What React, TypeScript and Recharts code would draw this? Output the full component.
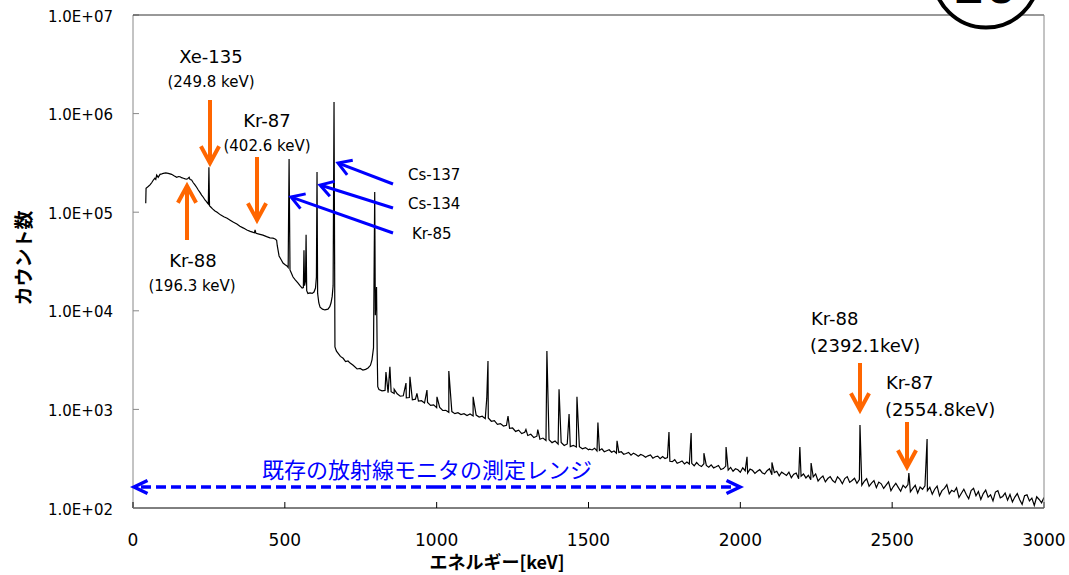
import { LineChart, Line, XAxis, YAxis } from 'recharts'

const W = 1069
const H = 575
// plot box produced by the margins below
const L = 133
const T = 15
const R = 1044
const B = 508

// 40-806 keV, read point by point (keV / counts)
const lowKeV = [42, 43, 50, 56, 62, 67, 72, 75, 78, 83, 89, 95, 100, 108, 116, 122, 127, 135, 144, 150, 155, 160, 166, 172, 177, 181, 185, 188, 193, 198, 204, 210, 215, 221, 226, 232, 237, 242, 246, 248, 250, 252, 256, 262, 270, 277, 288, 299, 310, 320, 331, 342, 352, 364, 375, 386, 396, 400, 402, 405, 415, 428, 440, 451, 461, 468, 473, 475, 481, 488, 494, 500, 507, 511, 514, 517, 520, 527, 535, 543, 550, 557, 561, 563, 565, 568, 570, 572, 576, 583, 590, 596, 601, 604, 606, 608, 612, 616, 624, 632, 642, 648, 652, 656, 659, 662, 665, 670, 675, 683, 692, 700, 708, 715, 725, 738, 748, 757, 766, 774, 782, 787, 792, 796, 798, 800, 802, 804, 806]
const lowCounts = [123000, 175000, 182000, 189000, 200000, 212000, 221000, 215000, 238000, 226000, 242000, 245000, 248000, 250000, 248000, 245000, 242000, 234000, 226000, 230000, 229000, 224000, 221000, 218000, 216000, 220000, 226000, 214000, 212000, 200000, 189000, 178000, 168000, 158000, 149000, 141000, 133000, 128000, 123000, 121000, 285000, 116000, 113000, 108000, 103000, 100000, 94000, 90000, 87000, 83000, 79000, 76000, 72000, 69000, 66000, 64000, 62500, 62000, 66000, 61000, 60000, 58500, 56500, 55000, 54500, 53500, 52000, 46000, 36000, 33000, 30500, 29500, 28500, 27500, 347000, 26000, 24800, 22000, 20500, 19200, 18000, 17000, 17200, 41000, 18000, 20000, 59000, 16000, 15000, 15200, 15000, 15500, 17000, 22000, 256000, 15000, 12000, 10900, 10400, 10200, 10400, 11000, 12000, 14000, 18000, 1310000, 4300, 3900, 3720, 3450, 3300, 3050, 3100, 2950, 2800, 2570, 2600, 2510, 2550, 2630, 2800, 3180, 4200, 160000, 9000, 13000, 17400, 4000, 1700]

// continuum 810-1500 keV, 10 keV channels
const midStart = 810
const midStep = 10
const midCounts = [
  1590, 1545, 1560, 1480, 1510, 1450, 1440, 1360, 1375, 1310,
  1320, 1250, 1270, 1215, 1225, 1160, 1175, 1100, 1110, 1040,
  1045, 975, 980, 935, 950, 905, 925, 885, 905, 865,
  900, 858, 875, 835, 852, 805, 818, 758, 768, 705,
  718, 678, 690, 642, 648, 598, 615, 568, 585, 543,
  560, 518, 535, 498, 512, 484, 492, 460, 478, 445,
  462, 430, 446, 420, 432, 415, 418, 398, 410, 390,
]

// continuum 1504-3000 keV, 8 keV channels
const highStart = 1504
const highStep = 8
const highCounts = [
  396, 388, 404, 379, 384, 398, 372, 381, 390, 368,
  379, 360, 366, 372, 351, 357, 366, 343, 360, 349,
  335, 349, 341, 327, 338, 345, 320, 331, 336, 317,
  333, 318, 324, 298, 295, 309, 284, 291, 300, 280,
  293, 279, 284, 268, 289, 272, 263, 281, 270, 259,
  274, 255, 262, 270, 246, 251, 266, 242, 258, 236,
  250, 244, 230, 256, 239, 226, 248, 241, 224, 236,
  245, 228, 221, 239, 250, 217, 229, 236, 212, 231,
  222, 214, 231, 203, 220, 226, 198, 210, 221, 202,
  215, 193, 207, 222, 188, 201, 211, 184, 199, 208,
  190, 181, 207, 195, 176, 199, 208, 182, 190, 200,
  178, 194, 170, 186, 198, 166, 179, 190, 161, 183,
  176, 158, 171, 184, 150, 165, 178, 162, 148, 170,
  160, 173, 146, 158, 170, 142, 163, 155, 168, 150,
  162, 138, 155, 167, 133, 150, 158, 172, 139, 151,
  146, 160, 128, 141, 155, 137, 124, 150, 158, 133,
  147, 122, 140, 152, 129, 136, 118, 145, 150, 127,
  131, 142, 120, 137, 115, 129, 140, 121, 109, 133,
  136, 118, 126, 106, 130, 122, 113, 128,
]

// photopeaks above 800 keV
const peakKeV = [833, 846, 860, 899, 912, 935, 968, 1001, 1040, 1120, 1165, 1169, 1235, 1294, 1333, 1363, 1403, 1436, 1462, 1531, 1594, 1765, 1838, 1880, 1953, 2022, 2104, 2196, 2233, 2394, 2555, 2615]
const peakCounts = [2390, 2700, 1600, 1850, 2140, 1450, 1570, 1340, 2450, 1340, 1300, 3100, 857, 625, 625, 3900, 1600, 898, 1340, 735, 480, 590, 577, 360, 416, 330, 290, 416, 286, 695, 226, 501]

const xTicks = [0, 500, 1000, 1500, 2000, 2500, 3000]
const yTicks = [1e2, 1e3, 1e4, 1e5, 1e6, 1e7]
const yTickLabels = ['1.0E+02', '1.0E+03', '1.0E+04', '1.0E+05', '1.0E+06', '1.0E+07']

const spectrum = [
  ...lowKeV.map((e, i) => ({ e, c: lowCounts[i] })),
  ...midCounts.map((c, i) => ({ e: midStart + i * midStep, c })),
  ...highCounts.map((c, i) => ({ e: highStart + i * highStep, c })),
  ...peakKeV.map((e, i) => ({ e, c: peakCounts[i] })),
].sort((a, b) => a.e - b.e)

const LATIN = 'DejaVu Sans, Verdana, sans-serif'
const JP = '"Noto Sans CJK JP", sans-serif'
const ORANGE = '#ff6600'
const BLUE = '#0000ff'

const XTick = (props: any) => {
  const { x, y, payload } = props
  return (
    <g>
      <line x1={x} y1={y} x2={x} y2={y - 6} stroke="#000" />
      <text x={x} y={y + 38} textAnchor="middle" fontSize={17} fontFamily={LATIN} fill="#000">
        {payload.value}
      </text>
    </g>
  )
}

const YTick = (props: any) => {
  const { x, y, payload } = props
  const i = yTicks.indexOf(payload.value)
  return (
    <g>
      <line x1={x} y1={y} x2={x + 6} y2={y} stroke="#888" />
      <text x={x - 20} y={y + 6.5} textAnchor="end" fontSize={15} fontFamily={LATIN} fill="#000">
        {yTickLabels[i]}
      </text>
    </g>
  )
}

function Arrow({ x1, y1, x2, y2, color, w, head, spread, dash }: any) {
  const a = Math.atan2(y2 - y1, x2 - x1)
  const p1 = [x2 - head * Math.cos(a - spread), y2 - head * Math.sin(a - spread)]
  const p2 = [x2 - head * Math.cos(a + spread), y2 - head * Math.sin(a + spread)]
  const back = w * 0.6
  return (
    <g>
      <line x1={x1} y1={y1} x2={x2 - back * Math.cos(a)} y2={y2 - back * Math.sin(a)} stroke={color} strokeWidth={w} strokeDasharray={dash} />
      <polyline points={`${p1[0]},${p1[1]} ${x2},${y2} ${p2[0]},${p2[1]}`} fill="none" stroke={color} strokeWidth={w} strokeLinejoin="miter" />
    </g>
  )
}

function Overlay() {
  const t = (x: number, y: number, s: string, size: number, anchor = 'middle') => (
    <text x={x} y={y} fontSize={size} fontFamily={LATIN} textAnchor={anchor} fill="#000">{s}</text>
  )
  return (
    <svg width={W} height={H} style={{ position: 'absolute', left: 0, top: 0, pointerEvents: 'none' }}>
      <line x1={L} y1={T} x2={R} y2={T} stroke="#333" />
      <line x1={R} y1={T} x2={R} y2={B} stroke="#888" />

      {t(211, 63, 'Xe-135', 18)}
      {t(211, 87, '(249.8 keV)', 15)}
      <Arrow x1={210} y1={100} x2={210} y2={163} color={ORANGE} w={4} head={19} spread={0.5} />

      {t(267, 127, 'Kr-87', 18)}
      {t(267, 151, '(402.6 keV)', 15)}
      <Arrow x1={257} y1={157} x2={257} y2={220} color={ORANGE} w={4} head={19} spread={0.5} />

      <Arrow x1={187} y1={240} x2={187} y2={186} color={ORANGE} w={4} head={19} spread={0.5} />
      {t(193, 267, 'Kr-88', 18)}
      {t(192, 291, '(196.3 keV)', 15)}

      <Arrow x1={393} y1={184} x2={338} y2={163} color={BLUE} w={3} head={15} spread={0.55} />
      <Arrow x1={393} y1={208} x2={320} y2={185} color={BLUE} w={3} head={15} spread={0.55} />
      <Arrow x1={393} y1={233} x2={291} y2={197} color={BLUE} w={3} head={15} spread={0.55} />
      {t(408, 180, 'Cs-137', 15, 'start')}
      {t(408, 209, 'Cs-134', 15, 'start')}
      {t(412, 239, 'Kr-85', 15, 'start')}

      {t(811, 325, 'Kr-88', 18, 'start')}
      {t(810, 352, '(2392.1keV)', 18, 'start')}
      <Arrow x1={860} y1={363} x2={860} y2={410} color={ORANGE} w={4} head={19} spread={0.5} />

      {t(886, 389, 'Kr-87', 18, 'start')}
      {t(885, 416, '(2554.8keV)', 18, 'start')}
      <Arrow x1={907} y1={422} x2={907} y2={467} color={ORANGE} w={4} head={19} spread={0.5} />

      <Arrow x1={436} y1={487} x2={134} y2={487} color={BLUE} w={3.5} head={15} spread={0.45} dash="10 5" />
      <Arrow x1={436} y1={487} x2={740} y2={487} color={BLUE} w={3.5} head={15} spread={0.45} dash="10 5" />
      <text x={427} y={478} fontSize={22} fontFamily={JP} textAnchor="middle" fill={BLUE}>既存の放射線モニタの測定レンジ</text>

      <text x={22} y={258} fontSize={19} fontWeight="bold" fontFamily={JP} textAnchor="middle" dominantBaseline="central" transform="rotate(-90 22 258)" fill="#000">カウント数</text>
      <text x={497} y={569} fontSize={18} fontWeight="bold" fontFamily={JP} textAnchor="middle" fill="#000">エネルギー[keV]</text>

      <circle cx={986} cy={-25} r={52.6} fill="#fff" stroke="#000" strokeWidth={4} />
      <text x={985} y={3} fontSize={46} fontWeight="bold" fontFamily={LATIN} textAnchor="middle" fill="#000">20</text>
    </svg>
  )
}

export default function App() {
  return (
    <div style={{ position: 'absolute', left: 0, top: 0, width: W, height: H, background: '#fff' }}>
      <LineChart width={W} height={H} data={spectrum} margin={{ top: T, right: W - R, bottom: 0, left: 0 }}>
        <XAxis
          dataKey="e"
          type="number"
          domain={[0, 3000]}
          ticks={xTicks}
          allowDataOverflow
          height={H - B}
          tickSize={0}
          tickMargin={0}
          tick={<XTick />}
          axisLine={{ stroke: '#000' }}
          interval={0}
        />
        <YAxis
          type="number"
          scale="log"
          domain={[100, 1e7]}
          ticks={yTicks}
          allowDataOverflow
          width={L}
          tickSize={0}
          tickMargin={0}
          tick={<YTick />}
          axisLine={{ stroke: '#888' }}
          interval={0}
        />
        <Line type="linear" dataKey="c" stroke="#000" strokeWidth={1.2} dot={false} isAnimationActive={false} />
      </LineChart>
      <Overlay />
    </div>
  )
}
